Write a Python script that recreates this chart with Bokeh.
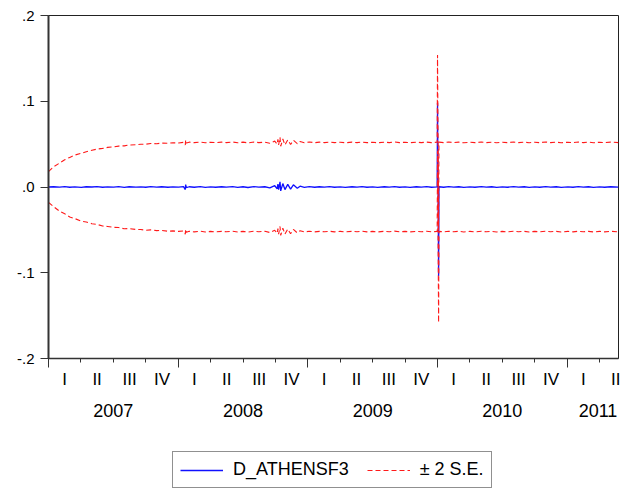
import pandas as pd
from bokeh.plotting import figure
from bokeh.layouts import column
from bokeh.models import (LinearAxis, FixedTicker, Range1d, Legend, LegendItem,
                          ColumnDataSource)
from bokeh.embed import file_html
from bokeh.resources import INLINE

# ---------------- data ----------------
dates = [
    "2007-01-01", "2007-01-15", "2007-02-01", "2007-02-15", "2007-03-01", "2007-03-15",
    "2007-04-02", "2007-04-16", "2007-05-02", "2007-05-16", "2007-06-01", "2007-06-15",
    "2007-07-02", "2007-07-16", "2007-08-01", "2007-08-15", "2007-09-03", "2007-09-17",
    "2007-10-01", "2007-10-15", "2007-11-01", "2007-11-15", "2007-12-03", "2007-12-17",
    "2008-01-02", "2008-01-16", "2008-01-21", "2008-01-22", "2008-01-24", "2008-02-01",
    "2008-02-15", "2008-03-03", "2008-03-17", "2008-04-01", "2008-04-15", "2008-05-02",
    "2008-05-15", "2008-06-02", "2008-06-16", "2008-07-01", "2008-07-15", "2008-08-01",
    "2008-08-15", "2008-09-01", "2008-09-15", "2008-09-29", "2008-10-06", "2008-10-08",
    "2008-10-10", "2008-10-14", "2008-10-16", "2008-10-22", "2008-10-28", "2008-11-05",
    "2008-11-13", "2008-11-21", "2008-12-02", "2008-12-10", "2008-12-22", "2009-01-05",
    "2009-01-20", "2009-02-02", "2009-02-16", "2009-03-02", "2009-03-16", "2009-04-01",
    "2009-04-15", "2009-05-04", "2009-05-18", "2009-06-01", "2009-06-15", "2009-07-01",
    "2009-07-15", "2009-08-03", "2009-08-17", "2009-09-01", "2009-09-15", "2009-10-01",
    "2009-10-15", "2009-11-02", "2009-11-16", "2009-12-01", "2009-12-15", "2009-12-31",
    "2010-01-01", "2010-01-04", "2010-01-05", "2010-01-18", "2010-02-01", "2010-02-15",
    "2010-03-01", "2010-03-15", "2010-04-01", "2010-04-15", "2010-05-03", "2010-05-17",
    "2010-06-01", "2010-06-15", "2010-07-01", "2010-07-15", "2010-08-02", "2010-08-16",
    "2010-09-01", "2010-09-15", "2010-10-01", "2010-10-15", "2010-11-01", "2010-11-15",
    "2010-12-01", "2010-12-15", "2011-01-03", "2011-01-17", "2011-02-01", "2011-02-15",
    "2011-03-01", "2011-03-15", "2011-04-01", "2011-04-15", "2011-05-02", "2011-05-24",
]

forecast = [
    0.0000, 0.0003, -0.0002, 0.0004, -0.0003, 0.0002,
    -0.0004, 0.0003, 0.0000, 0.0004, -0.0003, 0.0002,
    -0.0002, 0.0004, -0.0004, 0.0003, -0.0002, 0.0001,
    -0.0003, 0.0004, -0.0002, 0.0003, -0.0003, 0.0002,
    -0.0002, 0.0004, -0.0030, 0.0028, -0.0008, 0.0003,
    -0.0003, 0.0004, -0.0004, 0.0002, -0.0003, 0.0003,
    -0.0002, 0.0004, -0.0004, 0.0003, -0.0006, 0.0004,
    -0.0002, 0.0003, -0.0010, 0.0015, -0.0020, 0.0035,
    -0.0030, 0.0060, -0.0045, 0.0040, -0.0030, 0.0030,
    -0.0025, 0.0025, -0.0015, 0.0010, -0.0004, 0.0004,
    -0.0003, 0.0003, -0.0002, 0.0004, -0.0003, 0.0002,
    -0.0004, 0.0003, -0.0002, 0.0004, -0.0003, 0.0002,
    -0.0004, 0.0003, -0.0002, 0.0005, -0.0003, 0.0002,
    -0.0004, 0.0003, -0.0002, 0.0004, -0.0003, 0.0002,
    0.0980, -0.1040, 0.0003, -0.0003, 0.0004, -0.0002,
    0.0003, -0.0004, 0.0002, -0.0003, 0.0004, -0.0002,
    0.0003, -0.0004, 0.0002, -0.0003, 0.0004, -0.0002,
    0.0003, -0.0004, 0.0002, -0.0003, 0.0005, -0.0002,
    0.0003, -0.0004, 0.0002, -0.0003, 0.0004, -0.0002,
    0.0003, -0.0004, 0.0002, -0.0003, 0.0003, -0.0002,
]

upper_2se = [
    0.0180, 0.0235, 0.0280, 0.0318, 0.0345, 0.0372,
    0.0393, 0.0412, 0.0428, 0.0442, 0.0450, 0.0462,
    0.0468, 0.0477, 0.0480, 0.0490, 0.0492, 0.0498,
    0.0499, 0.0508, 0.0505, 0.0512, 0.0510, 0.0516,
    0.0514, 0.0521, 0.0490, 0.0548, 0.0512, 0.0523,
    0.0517, 0.0524, 0.0516, 0.0522, 0.0517, 0.0523,
    0.0518, 0.0524, 0.0516, 0.0523, 0.0514, 0.0524,
    0.0518, 0.0523, 0.0510, 0.0535, 0.0500, 0.0555,
    0.0490, 0.0580, 0.0475, 0.0560, 0.0490, 0.0550,
    0.0495, 0.0545, 0.0505, 0.0530, 0.0516, 0.0524,
    0.0517, 0.0523, 0.0518, 0.0524, 0.0517, 0.0522,
    0.0516, 0.0523, 0.0518, 0.0524, 0.0517, 0.0522,
    0.0516, 0.0523, 0.0518, 0.0525, 0.0517, 0.0522,
    0.0516, 0.0523, 0.0518, 0.0524, 0.0517, 0.0522,
    0.1540, -0.0500, 0.0523, 0.0517, 0.0524, 0.0518,
    0.0523, 0.0516, 0.0522, 0.0517, 0.0524, 0.0518,
    0.0523, 0.0516, 0.0522, 0.0517, 0.0524, 0.0518,
    0.0523, 0.0516, 0.0522, 0.0517, 0.0525, 0.0518,
    0.0523, 0.0516, 0.0522, 0.0517, 0.0524, 0.0518,
    0.0523, 0.0516, 0.0522, 0.0517, 0.0523, 0.0518,
]

lower_2se = [
    -0.0180, -0.0228, -0.0284, -0.0312, -0.0350, -0.0368,
    -0.0399, -0.0408, -0.0428, -0.0436, -0.0455, -0.0460,
    -0.0471, -0.0473, -0.0487, -0.0485, -0.0495, -0.0496,
    -0.0505, -0.0500, -0.0509, -0.0507, -0.0516, -0.0512,
    -0.0518, -0.0513, -0.0550, -0.0492, -0.0528, -0.0517,
    -0.0523, -0.0516, -0.0524, -0.0518, -0.0523, -0.0517,
    -0.0522, -0.0516, -0.0524, -0.0517, -0.0526, -0.0516,
    -0.0522, -0.0517, -0.0530, -0.0505, -0.0540, -0.0485,
    -0.0550, -0.0460, -0.0565, -0.0480, -0.0550, -0.0490,
    -0.0545, -0.0495, -0.0535, -0.0510, -0.0524, -0.0516,
    -0.0523, -0.0517, -0.0522, -0.0516, -0.0523, -0.0518,
    -0.0524, -0.0517, -0.0522, -0.0516, -0.0523, -0.0518,
    -0.0524, -0.0517, -0.0522, -0.0515, -0.0523, -0.0518,
    -0.0524, -0.0517, -0.0522, -0.0516, -0.0523, -0.0518,
    0.0420, -0.1580, -0.0517, -0.0523, -0.0516, -0.0522,
    -0.0517, -0.0524, -0.0518, -0.0523, -0.0516, -0.0522,
    -0.0517, -0.0524, -0.0518, -0.0523, -0.0516, -0.0522,
    -0.0517, -0.0524, -0.0518, -0.0523, -0.0515, -0.0522,
    -0.0517, -0.0524, -0.0518, -0.0523, -0.0516, -0.0522,
    -0.0517, -0.0524, -0.0518, -0.0523, -0.0517, -0.0522,
]

quarter_labels = ["I", "II", "III", "IV"] * 4 + ["I", "II"]
year_labels = ["2007", "2008", "2009", "2010", "2011"]
y_ticks = [-0.2, -0.1, 0.0, 0.1, 0.2]
y_tick_labels = ["-.2", "-.1", ".0", ".1", ".2"]
series_names = ["D_ATHENSF3", "\u00b1 2 S.E."]

assert len(dates) == len(forecast) == len(upper_2se) == len(lower_2se)


def to_quarters(s):
    """Position in quarters since 2007Q1 (0 = 1 Jan 2007)."""
    d = pd.Timestamp(s)
    per = d.to_period("Q")
    start = per.start_time
    end = (per + 1).start_time
    return float((d.year - 2007) * 4 + (per.quarter - 1) + (d - start) / (end - start))


xq = [to_quarters(d) for d in dates]
x_end = xq[-1]

src = ColumnDataSource(dict(x=xq, f=forecast, up=upper_2se, lo=lower_2se))

FONT = "Liberation Sans"
BLUE = "#1010ff"
RED = "#ff1a1a"

p = figure(frame_width=570, frame_height=343, output_backend="svg",
           toolbar_location=None,
           x_range=Range1d(0, x_end), y_range=Range1d(-0.2, 0.2),
           min_border_left=48, min_border_right=2, min_border_top=15,
           min_border_bottom=82,
           background_fill_color="white", border_fill_color="white",
           outline_line_color="#222222", outline_line_width=1)
p.xgrid.visible = False
p.ygrid.visible = False

r_f = p.line("x", "f", source=src, line_color=BLUE, line_width=1.3)
r_up = p.line("x", "up", source=src, line_color=RED, line_width=1.1,
              line_dash="5 3")
r_lo = p.line("x", "lo", source=src, line_color=RED, line_width=1.1,
              line_dash="5 3")

# --- y axis
ya = p.yaxis[0]
ya.ticker = FixedTicker(ticks=y_ticks, minor_ticks=[])
ya.major_label_overrides = {t: l for t, l in zip(y_ticks, y_tick_labels)}
ya.major_tick_out = 8
ya.major_tick_in = 0
ya.minor_tick_out = 0
ya.minor_tick_in = 0
ya.major_label_standoff = 6
ya.axis_line_color = "#333333"
ya.axis_line_width = 2
ya.major_tick_line_color = "#333333"
ya.major_label_text_font = FONT
ya.major_label_text_font_size = "15px"
ya.major_label_text_color = "black"

# --- x axis: tick marks at quarter boundaries (longer at years)
xa = p.xaxis[0]
xa.ticker = FixedTicker(ticks=[0, 4, 8, 12, 16], minor_ticks=list(range(18)))
xa.major_tick_out = 9
xa.major_tick_in = 0
xa.minor_tick_out = 4
xa.minor_tick_in = 0
xa.axis_line_color = "#333333"
xa.axis_line_width = 1.5
xa.major_tick_line_color = "#333333"
xa.minor_tick_line_color = "#333333"
xa.major_label_overrides = {t: "" for t in [0, 4, 8, 12, 16]}
xa.major_label_text_font_size = "1px"
xa.major_label_standoff = 0

# --- quarter labels (centred in each quarter)
q_pos = [i + 0.5 for i in range(len(quarter_labels))]
qa = LinearAxis(ticker=FixedTicker(ticks=q_pos, minor_ticks=[]),
                major_label_overrides={t: l for t, l in zip(q_pos, quarter_labels)},
                axis_line_color=None, major_tick_line_color=None,
                minor_tick_line_color=None, major_tick_out=0, major_tick_in=0,
                minor_tick_out=0, minor_tick_in=0, major_label_standoff=2,
                major_label_text_font=FONT, major_label_text_font_size="17px",
                major_label_text_color="black")
p.add_layout(qa, "below")

# --- year labels
y_pos = [2, 6, 10, 14, 16.95]
ya2 = LinearAxis(ticker=FixedTicker(ticks=y_pos, minor_ticks=[]),
                 major_label_overrides={t: l for t, l in zip(y_pos, year_labels)},
                 axis_line_color=None, major_tick_line_color=None,
                 minor_tick_line_color=None, major_tick_out=0, major_tick_in=0,
                 minor_tick_out=0, minor_tick_in=0, major_label_standoff=12,
                 major_label_text_font=FONT, major_label_text_font_size="18px",
                 major_label_text_color="black")
p.add_layout(ya2, "below")

# --- legend strip under the chart (same series, ranges chosen so that
#     only the legend is visible in this strip)
lg = figure(width=620, height=49, output_backend="svg", toolbar_location=None,
            x_range=Range1d(-10, -9), y_range=Range1d(10, 11),
            x_axis_location=None, y_axis_location=None,
            min_border=0, outline_line_color=None,
            background_fill_color="white", border_fill_color="white")
lg.xgrid.visible = False
lg.ygrid.visible = False
k_f = lg.line("x", "f", source=src, line_color=BLUE, line_width=1.3)
k_se = lg.line("x", "up", source=src, line_color=RED, line_width=1.1,
               line_dash="5 3")

legend = Legend(items=[LegendItem(label=series_names[0], renderers=[k_f]),
                       LegendItem(label=series_names[1], renderers=[k_se])],
                orientation="horizontal", location=(124, 1),
                border_line_color="#222222", border_line_width=1,
                padding=7, margin=0, spacing=18, glyph_width=43, glyph_height=20,
                label_standoff=10, label_text_font=FONT,
                label_text_color="black",
                label_text_font_size="18px", background_fill_color="white")
lg.add_layout(legend, "center")

layout = column(p, lg, spacing=0)

open("out.html", "w").write(file_html(layout, INLINE))
